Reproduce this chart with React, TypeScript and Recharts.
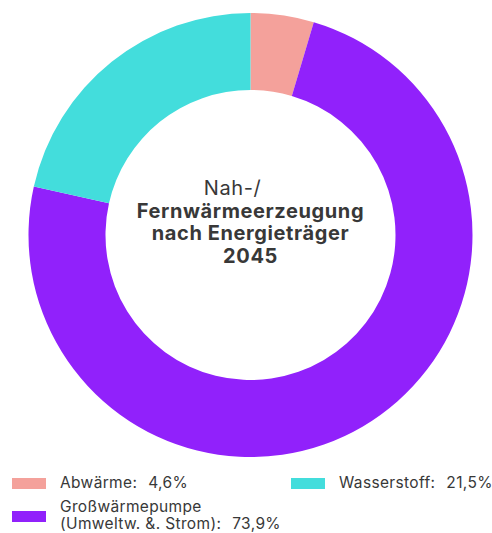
import { PieChart, Pie, Cell, Legend } from 'recharts';

const categories = ['Abwärme', 'Großwärmepumpe (Umweltw. &. Strom)', 'Wasserstoff'];
const shares = [4.6, 73.9, 21.5];
const colors = ['#f4a19b', '#9121fb', '#43dddc'];
const titleLines = ['Nah-/', 'Fernwärmeerzeugung', 'nach Energieträger', '2045'];

const data = categories.map((name, i) => ({ name, value: shares[i] }));
const fmt = (v: number) => v.toFixed(1).replace('.', ',') + '%';

const font = 'Inter, "Noto Sans", sans-serif';
const textColor = '#383838';

function LegendBox() {
  const item = (i: number, left: number, top: number, swatchTop: number, lines: string[]) => (
    <div key={i} style={{ position: 'absolute', left, top }}>
      <div style={{ position: 'absolute', left: 0, top: swatchTop, width: 34, height: 11, background: colors[i] }} />
      <div style={{ position: 'absolute', left: 48, top: 0, whiteSpace: 'nowrap', lineHeight: '17px' }}>
        {lines.slice(0, -1).map((l) => (
          <div key={l}>{l}</div>
        ))}
        <div>
          {lines[lines.length - 1]}
          <span style={{ marginLeft: 11 }}>{fmt(shares[i])}</span>
        </div>
      </div>
    </div>
  );
  return (
    <div
      style={{
        position: 'relative',
        width: 492,
        height: 62,
        fontFamily: font,
        fontSize: 15.5,
        letterSpacing: 0.35,
        color: textColor,
      }}
    >
      {item(0, 12, 8, 4, [categories[0] + ':'])}
      {item(2, 291, 8, 4, [categories[2] + ':'])}
      {item(1, 12, 32, 13, ['Großwärmepumpe', '(Umweltw. &. Strom):'])}
    </div>
  );
}

export default function App() {
  return (
    <div style={{ position: 'absolute', left: 0, top: 0, width: 492, height: 533, background: '#fff' }}>
      <PieChart width={492} height={533} margin={{ top: 0, right: 0, bottom: 0, left: 0 }}>
        <Pie
          data={data}
          dataKey="value"
          nameKey="name"
          cx={250.5}
          cy={235}
          innerRadius={145}
          outerRadius={222}
          startAngle={90}
          endAngle={-270}
          stroke="none"
          isAnimationActive={false}
        >
          {data.map((d, i) => (
            <Cell key={d.name} fill={colors[i]} />
          ))}
        </Pie>
        <Legend
          content={() => <LegendBox />}
          wrapperStyle={{ position: 'absolute', left: 0, top: 466, width: 492 }}
        />
      </PieChart>
      <div
        style={{
          position: 'absolute',
          left: 0,
          top: 177,
          width: 501,
          textAlign: 'center',
          fontFamily: font,
          fontSize: 20,
          letterSpacing: 0.6,
          lineHeight: '22.5px',
          color: textColor,
          pointerEvents: 'none',
        }}
      >
        <div style={{ fontWeight: 400, marginLeft: -36 }}>{titleLines[0]}</div>
        <div style={{ fontWeight: 700 }}>{titleLines[1]}</div>
        <div style={{ fontWeight: 700 }}>{titleLines[2]}</div>
        <div style={{ fontWeight: 700 }}>{titleLines[3]}</div>
      </div>
    </div>
  );
}
